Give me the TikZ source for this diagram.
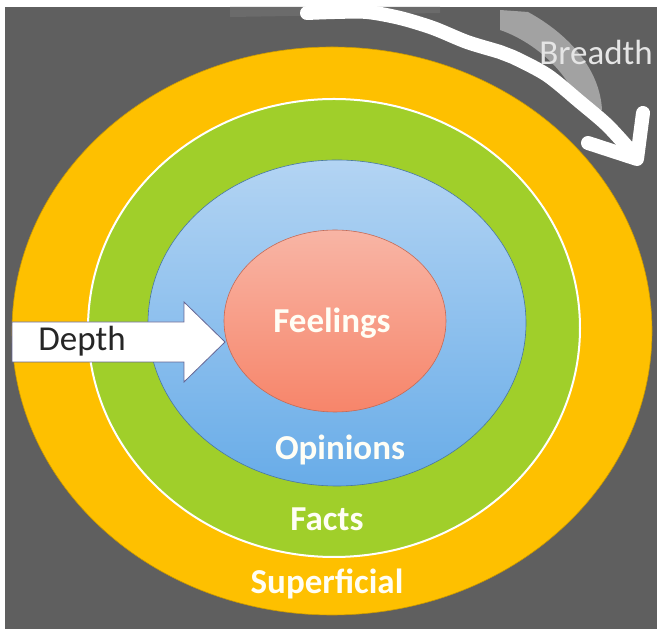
\documentclass[tikz,border=0pt]{standalone}
\usepackage{fontspec}
\setmainfont{Carlito}
\usepackage{tikz}
\usetikzlibrary{shapes,arrows}
\definecolor{backgray}{HTML}{5F5F5F}
\definecolor{bandgray}{HTML}{A2A2A2}
\definecolor{bandshade}{HTML}{6B6B6B}
\definecolor{ringorange}{HTML}{FEC000}
\definecolor{ringgreen}{HTML}{A0CF2A}
\definecolor{bluetop}{HTML}{B3D4F3}
\definecolor{bluebottom}{HTML}{68ACE8}
\definecolor{redtop}{HTML}{F8B5A5}
\definecolor{redbottom}{HTML}{F7856A}
\tikzstyle{area}=[draw, line width=0.6pt]
\tikzstyle{stroke}=[white, line width=14pt, line cap=round, line join=round]
\tikzstyle{ringlabel}=[text=white!96!yellow, anchor=base, font=\fontsize{35pt}{40pt}\selectfont\bfseries]
\tikzstyle{sidelabel}=[anchor=base, font=\fontsize{35pt}{40pt}\selectfont]

\begin{document}
\begin{tikzpicture}
 	\useasboundingbox (0pt,0pt) rectangle (657pt,629pt);
 	\path[fill=backgray] (5pt,0pt) rectangle (657pt,622pt);
 	% layers, outermost first
 	\path[area, draw=ringorange!80!black, fill=ringorange] (332pt,298pt) ellipse [x radius=320pt, y radius=284pt];
 	\path[area, draw=white, line width=2pt, fill=ringgreen] (334pt,301pt) ellipse [x radius=246pt, y radius=229pt];
 	\path[area, draw=bluebottom!70!black, top color=bluetop, bottom color=bluebottom] (337pt,306pt) ellipse [x radius=189pt, y radius=163pt];
 	\path[area, draw=redbottom!80!black, top color=redtop, bottom color=redbottom] (335pt,308pt) ellipse [x radius=111pt, y radius=91pt];
 	% breadth band behind the stroke
 	\path[fill=bandshade] (230pt,622pt) -- (440pt,622pt) -- (440pt,616pt)
 		.. controls (380pt,615pt) and (300pt,613pt) .. (230pt,612pt) -- cycle;
 	\path[fill=bandgray] (500pt,619pt) -- (528pt,617pt)
 		.. controls (570pt,594pt) and (600pt,559pt) .. (602pt,519pt) -- (580pt,519pt)
 		.. controls (570pt,559pt) and (530pt,589pt) .. (500pt,599pt) -- cycle;
 	\draw[stroke] plot[smooth] coordinates {(307pt,616pt) (335pt,617pt) (367pt,617pt) (400pt,611pt) (433pt,601pt) (467pt,587pt) (500pt,577pt) (513pt,572pt) (547pt,554pt) (580pt,527pt) (607pt,504pt) (630pt,479pt)};
 	\draw[stroke] (588pt,486pt) -- (637pt,470pt) -- (643pt,516pt);
 	% depth arrow
 	\path[area, draw=black!70!blue!60, line width=0.8pt, fill=white] (12pt,307pt) -- (184pt,307pt) -- (184pt,327pt) -- (225pt,287pt) -- (184pt,247pt) -- (184pt,267pt) -- (12pt,267pt) -- cycle;
 	\node[ringlabel] (feelings) at (332pt,296pt) {Feelings};
 	\node[ringlabel] (opinions) at (340pt,169pt) {Opinions};
 	\node[ringlabel] (facts) at (327pt,98pt) {Facts};
 	\node[ringlabel] (superficial) at (327pt,35pt) {Superficial};
 	\node[sidelabel, text=black!85] (depth) at (82pt,278pt) {Depth};
 	\node[sidelabel, text=white!90!black] (breadth) at (596pt,564pt) {Breadth};
\end{tikzpicture}
\end{document}
